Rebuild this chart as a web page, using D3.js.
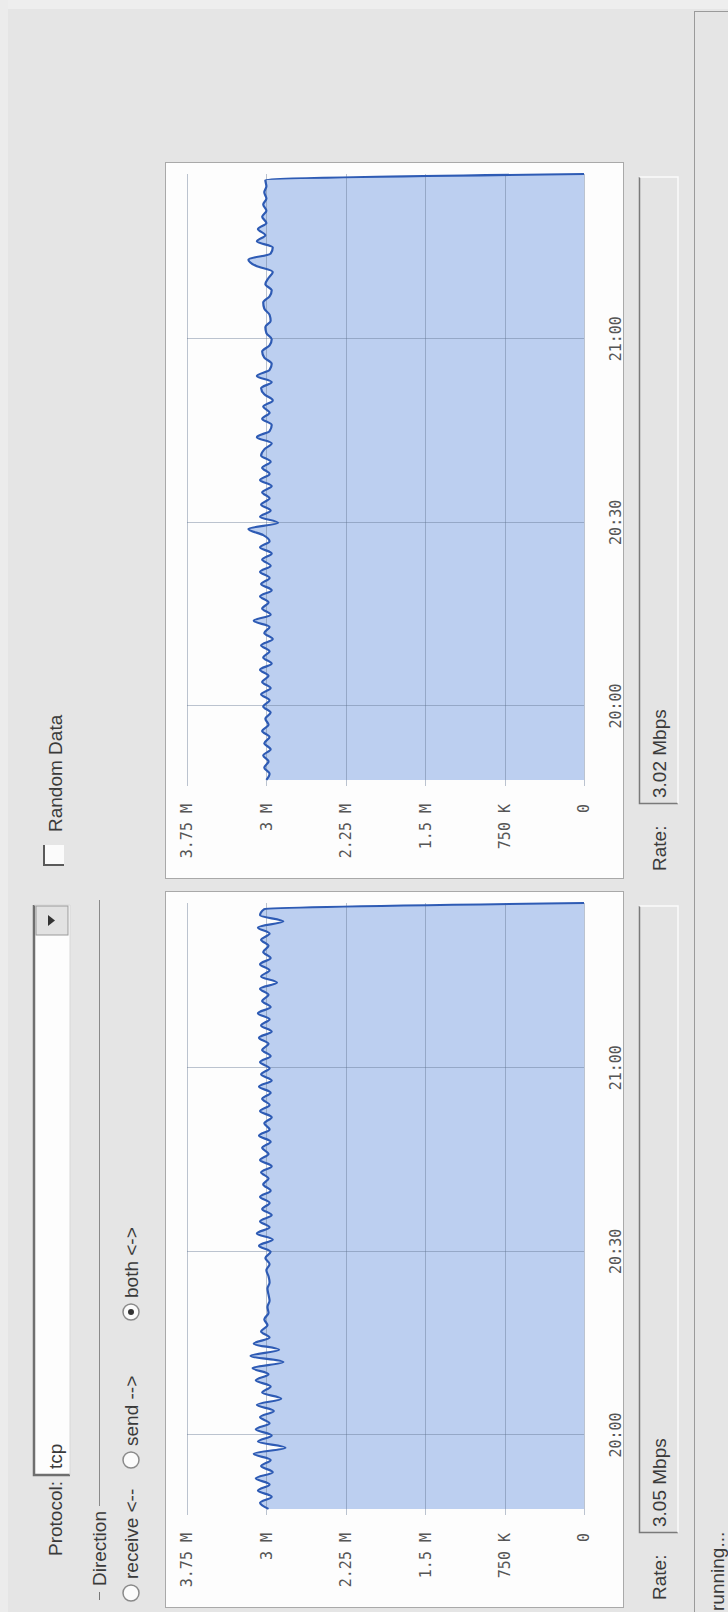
<!DOCTYPE html>
<html><head><meta charset="utf-8">
<script src="https://cdnjs.cloudflare.com/ajax/libs/d3/7.8.5/d3.min.js"></script>
<style>
html,body{margin:0;padding:0;background:#e6e6e6;}
svg{display:block;}
</style></head><body>
<svg id="c" width="728" height="1612"></svg>
<script>
// ---- data ----
const timeTickLabels = ["20:00", "20:30", "21:00"];
const domainStart = "19:47", domainEnd = "21:27";
const sampleStart = "19:48"; // one sample per minute
const valueTicks = [0, 750000, 1500000, 2250000, 3000000, 3750000];
const valueTickLabels = ["0", "750 K", "1.5 M", "2.25 M", "3 M", "3.75 M"];
// Mbit/s, left chart (19:48 .. 21:27)
const leftRate = [
  2.98,3.06,2.95,3.08,2.97,3.10,2.94,3.05,2.96,3.12,
  2.82,3.08,2.95,3.10,2.97,3.06,2.93,3.09,2.86,3.04,
  2.96,3.10,2.98,3.13,2.84,3.15,2.88,3.12,2.97,3.05,
  2.99,3.02,2.98,2.99,2.97,2.98,2.99,2.97,2.98,3.00,
  2.97,3.01,2.96,3.07,2.94,3.09,2.97,3.06,2.95,3.04,
  2.97,3.06,2.96,3.03,2.98,3.05,2.95,3.06,2.98,3.04,
  2.96,3.07,2.97,3.02,2.95,3.06,2.97,3.04,2.96,3.07,
  2.95,3.05,2.97,3.06,2.96,3.04,2.98,3.07,2.95,3.05,
  2.97,3.08,2.96,3.04,2.98,3.06,2.90,3.05,2.97,3.06,
  2.96,3.03,2.98,3.05,2.97,3.08,2.84,3.06,3.02,0
];
// Mbit/s, right chart
const rightRate = [
  3.00,2.97,3.02,2.98,3.03,2.96,3.02,2.97,3.04,2.98,
  3.01,2.96,3.03,2.97,3.05,2.96,3.04,2.98,3.06,2.95,
  3.03,2.97,3.05,2.94,3.02,2.97,3.12,2.96,3.04,2.98,
  3.06,2.95,3.05,2.97,3.06,2.96,3.04,2.95,3.06,2.97,
  3.03,3.17,2.89,3.06,2.96,3.05,2.97,3.04,2.95,3.06,
  2.97,3.04,2.96,3.05,3.02,2.95,3.09,2.97,2.95,3.04,
  2.97,3.03,2.94,3.02,3.05,2.95,3.09,2.97,2.95,3.02,
  3.04,2.97,2.95,3.00,3.01,2.96,2.97,3.02,3.03,2.97,
  2.95,3.01,2.98,2.94,3.10,3.17,2.96,2.94,3.09,3.01,
  3.08,3.00,3.04,3.00,3.03,3.00,3.02,3.00,3.01,0
];
const rateTexts = ["3.05 Mbps", "3.02 Mbps"];
const protocolValue = "tcp";
const directionOptions = ["receive <--", "send -->", "both <->"];
const selectedDirection = 2;
const statusText = "running...";

// ---- drawing ----
const UI = "'Liberation Sans', Arial, sans-serif";
const MONO = "'DejaVu Sans Mono', monospace";
const svg = d3.select("#c");
svg.append("rect").attr("width", 728).attr("height", 1612).attr("fill", "#e5e5e5");
svg.append("rect").attr("width", 728).attr("height", 9).attr("fill", "#eeeeee");
svg.append("rect").attr("width", 8).attr("height", 1612).attr("fill", "#ececec");
// original (landscape) frame 1612 x 728, rotated CCW
const g = svg.append("g").attr("transform", "translate(0,1612) rotate(-90)");

const parse = d3.timeParse("%H:%M");
const t0 = parse(sampleStart);
const x = d3.scaleTime().domain([parse(domainStart), parse(domainEnd)]).range([93, 705]);
const y = d3.scaleLinear().domain([0, 3750000]).range([584, 187]);

// status bar
g.append("line").attr("x1", 0).attr("x2", 1600).attr("y1", 694.5).attr("y2", 694.5).attr("stroke", "#9a9a9a");
g.append("line").attr("x1", 1600.5).attr("x2", 1600.5).attr("y1", 694).attr("y2", 728).attr("stroke", "#9a9a9a");
g.append("text").attr("x", 1).attr("y", 724).attr("font-family", UI).attr("font-size", 19)
  .attr("fill", "#3a3a3a").text(statusText);

// protocol row
const boxX0 = 137, boxX1 = 707;
g.append("text").attr("x", boxX0 - 6).attr("y", 62).attr("text-anchor", "end").attr("font-family", UI)
  .attr("font-size", 19).attr("fill", "#3a3a3a").text("Protocol:");
g.append("rect").attr("x", boxX0).attr("y", 34).attr("width", boxX1 - boxX0).attr("height", 36).attr("fill", "#fdfdfd");
g.append("path").attr("d", `M${boxX0},70 V34 H${boxX1}`).attr("fill", "none").attr("stroke", "#6f6f6f").attr("stroke-width", 2.5);
g.append("path").attr("d", `M${boxX0},70 H${boxX1} V34`).attr("fill", "none").attr("stroke", "#d8d8d8").attr("stroke-width", 1);
g.append("rect").attr("x", boxX1 - 30).attr("y", 36).attr("width", 29).attr("height", 32).attr("fill", "#e2e2e2")
  .attr("stroke", "#9a9a9a").attr("stroke-width", 1);
g.append("path").attr("d", `M${boxX1 - 21},48 L${boxX1 - 10},48 L${boxX1 - 15.5},55 Z`).attr("fill", "#333");
g.append("text").attr("x", boxX0 + 6).attr("y", 62).attr("font-family", UI).attr("font-size", 19)
  .attr("fill", "#3a3a3a").text(protocolValue);

// random data checkbox
g.append("rect").attr("x", 747).attr("y", 44).attr("width", 20).attr("height", 20).attr("fill", "#fbfbfb");
g.append("path").attr("d", "M747,64 V44 H767").attr("fill", "none").attr("stroke", "#5a5a5a").attr("stroke-width", 2);
g.append("text").attr("x", 780).attr("y", 62).attr("font-family", UI).attr("font-size", 19)
  .attr("fill", "#3a3a3a").text("Random Data");

// direction group
g.append("line").attr("x1", 12).attr("x2", 20).attr("y1", 99.5).attr("y2", 99.5).attr("stroke", "#777");
const dirText = g.append("text").attr("x", 26).attr("y", 106).attr("font-family", UI).attr("font-size", 19)
  .attr("fill", "#3a3a3a").text("Direction");
const dw = dirText.node().getComputedTextLength();
g.append("line").attr("x1", 26 + dw + 5).attr("x2", 712).attr("y1", 99.5).attr("y2", 99.5).attr("stroke", "#8a8a8a");
const radioX = [19, 152, 300];
directionOptions.forEach((lab, i) => {
  const cx = radioX[i];
  g.append("circle").attr("cx", cx).attr("cy", 131).attr("r", 8).attr("fill", "#fbfbfb")
    .attr("stroke", "#8a8a8a").attr("stroke-width", 1.5);
  if (i === selectedDirection) g.append("circle").attr("cx", cx).attr("cy", 131).attr("r", 3).attr("fill", "#333");
  g.append("text").attr("x", cx + 14).attr("y", 138).attr("font-family", UI).attr("font-size", 19)
    .attr("fill", "#3a3a3a").text(lab);
});

// charts
const panels = [{ x0: 4, data: leftRate, rate: rateTexts[0] }, { x0: 733, data: rightRate, rate: rateTexts[1] }];
panels.forEach(p => {
  const pg = g.append("g").attr("transform", `translate(${p.x0},0)`);
  pg.append("rect").attr("x", 0.5).attr("y", 165.5).attr("width", 716).attr("height", 458)
    .attr("fill", "#fdfdfd").attr("stroke", "#a9a9a9");
  const series = p.data.map((v, i) => ({ t: d3.timeMinute.offset(t0, i), v: v * 1e6 }));
  pg.append("path").datum(series).attr("fill", "#bccff0")
    .attr("d", d3.area().x(d => x(d.t)).y0(y(0)).y1(d => y(d.v)).curve(d3.curveMonotoneX));
  // grid
  const tickTimes = timeTickLabels.map(parse);
  pg.append("g").selectAll("line").data(valueTicks).join("line")
    .attr("x1", x.range()[0]).attr("x2", x.range()[1])
    .attr("y1", d => Math.round(y(d)) + 0.5).attr("y2", d => Math.round(y(d)) + 0.5)
    .attr("stroke", "#5f7290").attr("stroke-opacity", 0.42);
  pg.append("g").selectAll("line").data(tickTimes).join("line")
    .attr("x1", d => Math.round(x(d)) + 0.5).attr("x2", d => Math.round(x(d)) + 0.5)
    .attr("y1", y.range()[1]).attr("y2", y.range()[0])
    .attr("stroke", "#5f7290").attr("stroke-opacity", 0.42);
  pg.append("path").datum(series).attr("fill", "none").attr("stroke", "#2e5bb4").attr("stroke-width", 2.2)
    .attr("stroke-linejoin", "round")
    .attr("d", d3.line().x(d => x(d.t)).y(d => y(d.v)).curve(d3.curveMonotoneX));
  // axes (labels only)
  const ya = pg.append("g").attr("transform", `translate(${x.range()[0]},0)`)
    .call(d3.axisLeft(y).tickValues(valueTicks).tickSize(0).tickPadding(18)
      .tickFormat((d, i) => valueTickLabels[i]));
  const xa = pg.append("g").attr("transform", `translate(0,${y.range()[0]})`)
    .call(d3.axisBottom(x).tickValues(tickTimes).tickSize(0).tickPadding(26)
      .tickFormat((d, i) => timeTickLabels[i]));
  [ya, xa].forEach(a => {
    a.select(".domain").remove();
    a.selectAll("text").attr("font-family", MONO).attr("font-size", 15).attr("fill", "#555");
  });
  // rate
  pg.append("text").attr("x", 8).attr("y", 666).attr("font-family", UI).attr("font-size", 19)
    .attr("fill", "#3a3a3a").text("Rate:");
  pg.append("rect").attr("x", 75).attr("y", 639).attr("width", 627).attr("height", 39).attr("fill", "#e4e4e4");
  pg.append("path").attr("d", "M75.5,678 V639.5 H702").attr("fill", "none").attr("stroke", "#7a7a7a").attr("stroke-width", 1.5);
  pg.append("path").attr("d", "M75.5,678 H702 V639.5").attr("fill", "none").attr("stroke", "#fafafa").attr("stroke-width", 1.5);
  pg.append("text").attr("x", 81).attr("y", 666).attr("font-family", UI).attr("font-size", 19)
    .attr("fill", "#3a3a3a").text(p.rate);
});
</script>
</body></html>
